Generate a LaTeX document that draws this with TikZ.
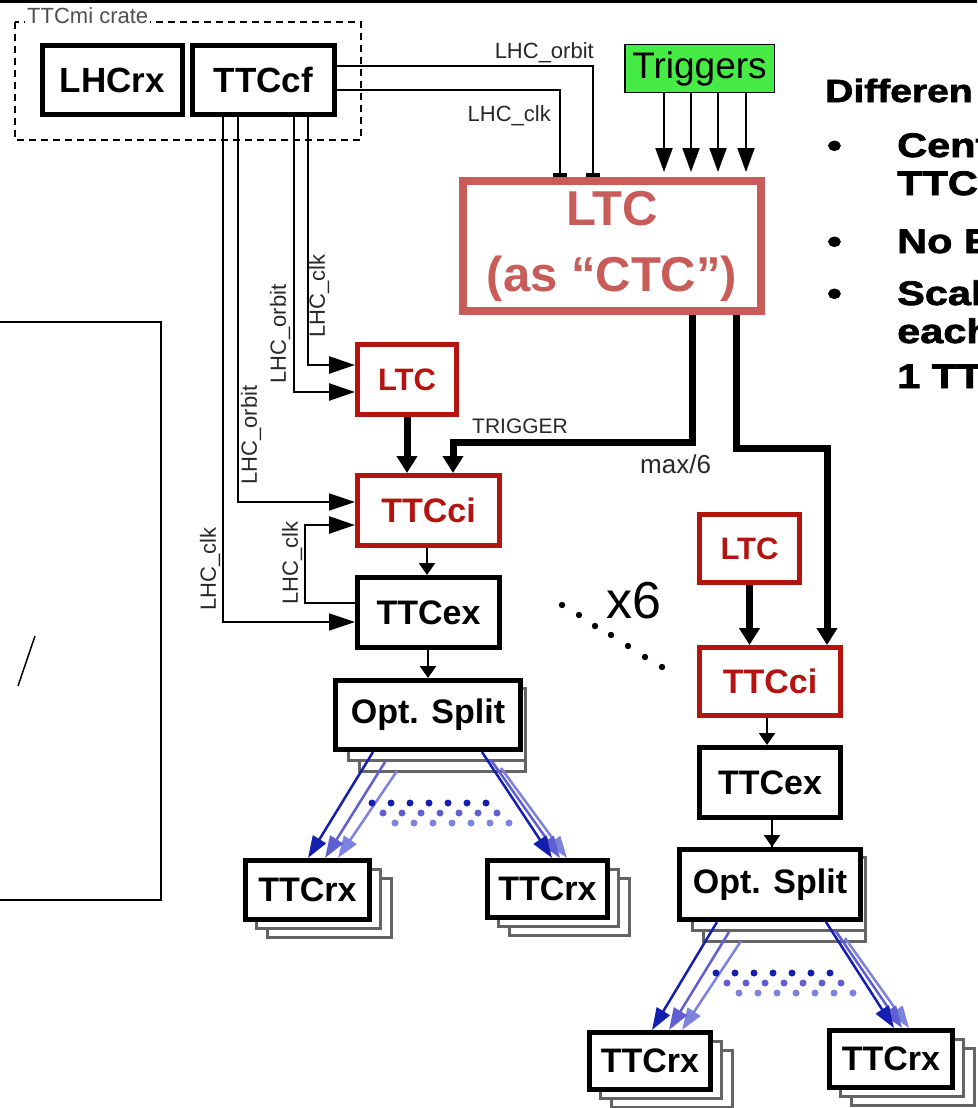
\documentclass[tikz,border=0pt]{standalone}
\usepackage{fontspec}
\setmainfont{Liberation Sans}
\newfontfamily\heavyfont[FakeStretch=1.22,FakeBold=2.2]{Liberation Sans}
\usetikzlibrary{arrows.meta,calc,shadows,backgrounds}
\definecolor{dred}{RGB}{180,20,15}
\definecolor{ctcred}{RGB}{200,92,88}
\definecolor{trigreen}{RGB}{70,235,70}
\definecolor{blueA}{RGB}{20,30,175}
\definecolor{blueB}{RGB}{95,95,210}
\definecolor{blueC}{RGB}{125,130,222}
\definecolor{shgray}{RGB}{100,100,100}
\definecolor{sgray}{RGB}{40,40,40}
\definecolor{crgray}{RGB}{80,80,80}
\newcommand\fanout[3]{%
  \draw[bluearr, draw=blueC] ($(#1.south west)+(64,19)$) -- ($(#2.north west)+(95,0)$);
  \draw[bluearr, draw=blueB] ($(#1.south west)+(52,10)$) -- ($(#2.north west)+(82,0)$);
  \draw[bluearr, draw=blueA] ($(#1.south west)+(40,0)$) -- ($(#2.north west)+(65,0)$);
  \draw[bluearr, draw=blueC] ($(#1.south west)+(168,16)$) -- ($(#3.north west)+(82,0)$);
  \draw[bluearr, draw=blueB] ($(#1.south west)+(158,8)$) -- ($(#3.north west)+(75,0)$);
  \draw[bluearr, draw=blueA] ($(#1.south west)+(149,0)$) -- ($(#3.north west)+(67,0)$);
  \foreach \col/\dy/\dx in {blueA/51/39, blueB/61/50, blueC/71/62}{
    \foreach \k in {0,...,6}
      \fill[\col] ($(#1.south west)+(\dx+19*\k,\dy)$) circle[radius=3.5];
  }%
}
\begin{document}
\begin{tikzpicture}[x=1pt,y=-1pt,
  box/.style={draw, line width=5pt, fill=white, inner sep=0pt},
  fs/.style={font=\fontsize{#1}{#1}\selectfont\bfseries},
  redbox/.style={box, draw=dred, text=dred},
  sig/.style={font=\fontsize{22}{22}\selectfont, text=sgray, inner sep=0pt},
  wthin/.style={line width=1.5pt},
  wmed/.style={line width=2.5pt},
  wfat/.style={line width=7pt},
  sigarr/.style={-{Triangle[length=26pt,width=17pt]}},
  bigarr/.style={-{Triangle[length=17pt,width=20pt]}},
  smallarr/.style={line width=2.5pt,-{Triangle[length=12pt,width=16pt]}},
  trarr/.style={line width=2pt,-{Triangle[length=24pt,width=17pt]}},
  bararr/.style={-{Rectangle[length=4pt,width=14pt]}},
  bluearr/.style={line width=2.5pt,-{Triangle[length=22pt,width=15pt]}},
  rxshadow/.style={double copy shadow={shadow xshift=11pt, shadow yshift=-9pt, draw=shgray, line width=3pt, fill=white}},
  osshadow/.style={draw=shgray, line width=3pt, fill=white},
  bodytext/.style={anchor=base west, inner sep=0pt, font=\heavyfont\bfseries\fontsize{34}{34}\selectfont},
]
\useasboundingbox (0,0) rectangle (977,1108);
\begin{scope}[on background layer]
  \fill[white] (0,0) rectangle (977,1108);
\end{scope}
% top rule
\draw[line width=3pt] (0,1.5) -- (977,1.5);
% left panel
\draw[line width=1.5pt] (-5,322) rectangle (161,900);
\draw[line width=1.5pt] (18,686) -- (35,636);

% TTCmi crate
\draw[line width=1.5pt, dash pattern=on 7pt off 5pt] (15,22) rectangle (361,140);
\node[font=\fontsize{22}{22}\selectfont, text=crgray, fill=white, inner sep=2pt, anchor=base west] (cratelbl) at (25,24) {TTCmi crate};
\node[box, fs=35, minimum width=140pt, minimum height=69pt] (lhcrx) at (112.5,80) {LHCrx};
\node[box, fs=35, minimum width=142pt, minimum height=69pt] (ttccf) at (263.5,80) {TTCcf};

% Triggers and central LTC
\node[draw, line width=1.5pt, fill=trigreen, inner sep=0pt, minimum width=149.5pt, minimum height=47.5pt, font=\fontsize{37}{37}\selectfont] (trig) at (699.5,68.5) {Triggers};
\node[draw=ctcred, line width=8pt, fill=white, text=ctcred, align=center, inner sep=0pt, minimum width=298pt, minimum height=130pt, font=\fontsize{49}{66}\selectfont\bfseries] (ctc) at (612,246) {LTC\\(as “CTC”)};
\coordinate (ctctop) at ($(ctc.north)+(0,-5)$);

% left column
\node[redbox, fs=31, minimum width=99pt, minimum height=70pt] (ltcA) at (407,379.5) {LTC};
\node[redbox, fs=34, minimum width=142pt, minimum height=70pt] (ttcciA) at (428.5,510.5) {TTCci};
\node[box, fs=34, minimum width=142pt, minimum height=70pt] (ttcexA) at (428.5,612.5) {TTCex};
\node[box, fs=34, minimum width=185pt, minimum height=69pt] (osA) at (428,715) {Opt. Split};
\node[box, rxshadow, fs=34, minimum width=124pt, minimum height=59pt] (rxA1) at (307.5,890) {TTCrx};
\node[box, rxshadow, fs=34, minimum width=120pt, minimum height=57pt] (rxA2) at (547.5,889) {TTCrx};

% right column
\node[redbox, fs=31, minimum width=100pt, minimum height=68pt] (ltcB) at (749.5,548.5) {LTC};
\node[redbox, fs=34, minimum width=141pt, minimum height=68pt] (ttcciB) at (770,681.5) {TTCci};
\node[box, fs=34, minimum width=141pt, minimum height=70pt] (ttcexB) at (770,782.5) {TTCex};
\node[box, fs=34, minimum width=181pt, minimum height=70pt] (osB) at (770,884.5) {Opt. Split};
\node[box, rxshadow, fs=34, minimum width=121pt, minimum height=57pt] (rxB1) at (650,1061) {TTCrx};
\node[box, rxshadow, fs=34, minimum width=123pt, minimum height=57pt] (rxB2) at (891,1059) {TTCrx};

% Opt. Split stacked copies
\begin{scope}[on background layer]
  \foreach \os in {osA,osB}{
    \draw[osshadow] ($(\os.north west)+(26,20)$) rectangle ($(\os.south east)+(2,19)$);
    \draw[osshadow] ($(\os.north west)+(15,10)$) rectangle ($(\os.south east)+(2,8)$);
  }
\end{scope}

% clock / orbit to central LTC
\draw[wthin, bararr] ($(ttccf.north east)+(0,23)$) -| ($(ctc.north west)+(134,0)$);
\draw[wmed, bararr] ($(ttccf.north east)+(0,47)$) -| ($(ctc.north west)+(101,0)$);
\node[sig, anchor=base east] (lorb) at (594,59) {LHC\_orbit};
\node[sig, anchor=base east] (lclk) at (551,121) {LHC\_clk};

% trigger inputs
\foreach \dx in {40,67,94,122}
  \draw[trarr] ($(trig.south west)+(\dx,0)$) coordinate (s) -- (s |- ctctop);

% TTCcf to local crates
\coordinate (inExA) at ($(ttcexA.west)+(0,9.5)$);
\coordinate (outExA) at ($(ttcexA.west)+(0,-9.5)$);
\coordinate (inCiOrb) at ($(ttcciA.west)+(0,-8.5)$);
\coordinate (inCiClk) at ($(ttcciA.west)+(0,14.5)$);
\coordinate (inLtcOrb) at ($(ltcA.west)+(0,12.5)$);
\coordinate (inLtcClk) at ($(ltcA.west)+(0,-14.5)$);
\draw[wthin, sigarr] ($(ttccf.south west)+(33,0)$) |- (inExA);
\draw[wthin, sigarr] ($(ttccf.south west)+(48,0)$) |- (inCiOrb);
\draw[wmed, sigarr] ($(ttccf.south west)+(104,0)$) |- (inLtcOrb);
\draw[wmed, sigarr] ($(ttccf.south west)+(118,0)$) |- (inLtcClk);
\draw[wmed, sigarr] (outExA) -- ++(-50,0) |- (inCiClk);
\node[sig, rotate=90] (l1) at (210,569) {LHC\_clk};
\node[sig, rotate=90] (l2) at (251,435) {LHC\_orbit};
\node[sig, rotate=90] (l3) at (280,334) {LHC\_orbit};
\node[sig, rotate=90] (l4) at (319,296) {LHC\_clk};
\node[sig, rotate=90] (l5) at (292,563) {LHC\_clk};

% LTC to TTCci
\draw[wfat, bigarr] (ltcA.south) -- (ltcA.south |- ttcciA.north);
\draw[wfat, bigarr] (ltcB.south) -- (ltcB.south |- ttcciB.north);
% triggers from central LTC
\draw[wfat, bigarr] ($(ctc.south west)+(233,0)$) -- ++(0,127) -| ($(ttcciA.north west)+(98,0)$);
\draw[wfat, bigarr] ($(ctc.south west)+(277,0)$) -- ++(0,133) -| ($(ttcciB.north west)+(130,0)$);
\node[sig, font=\fontsize{21}{21}\selectfont, anchor=base west] (trg) at (472,433) {TRIGGER};
\node[sig, font=\fontsize{26}{26}\selectfont, anchor=west] (max6) at (640,464) {max/6};

% chain arrows
\draw[smallarr] ($(ttcciA.south west)+(72,0)$) coordinate (s) -- (s |- ttcexA.north);
\draw[smallarr] (osA.north |- ttcexA.south) -- (osA.north);
\draw[smallarr] ($(ttcciB.south west)+(70,0)$) coordinate (s) -- (s |- ttcexB.north);
\draw[smallarr] ($(osB.north)+(2,0)$) coordinate (s) -- (s |- ttcexB.south) -- (s);

% fan-outs
\fanout{osA}{rxA1}{rxA2}
\fanout{osB}{rxB1}{rxB2}

% x6
\node[font=\fontsize{52}{52}\selectfont, anchor=base west, inner sep=0pt] (x6) at (606,618) {x6};
\foreach \p in {(562,605),(579,615),(595,626),(611,635),(628,646),(645,657),(662,667)}
  \fill \p circle[radius=3.2];

% right text
\node[bodytext, font=\heavyfont\bfseries\fontsize{32}{32}\selectfont] (t0) at (825,102) {Differen};
\node[bodytext] (b1) at (827,157) {•};
\node[bodytext] (t1) at (897,157) {Cent};
\node[bodytext] (t2) at (897,195) {TTC};
\node[bodytext] (b2) at (827,253) {•};
\node[bodytext] (t3) at (897,253) {No E};
\node[bodytext] (b3) at (827,305) {•};
\node[bodytext] (t4) at (897,305) {Scal};
\node[bodytext] (t5) at (897,343) {each};
\node[bodytext] (t6) at (897,388) {1 TT};
\end{tikzpicture}
\end{document}
